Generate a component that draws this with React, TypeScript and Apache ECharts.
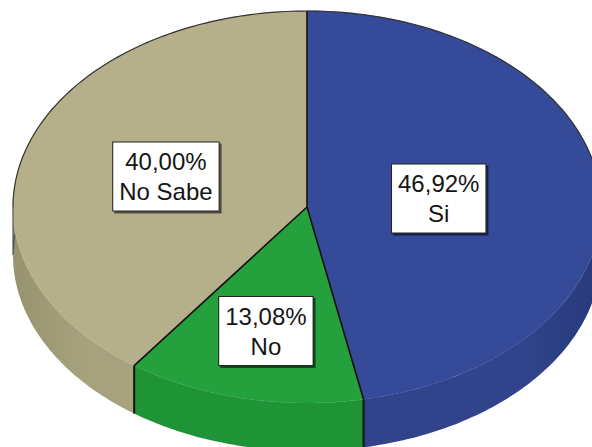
import React, { useEffect, useRef } from "react";
import * as echarts from "echarts";

const categories = ["Si", "No", "No Sabe"];
const values = [46.92, 13.08, 40.0];
const percentLabels = ["46,92%", "13,08%", "40,00%"];
const topColors = ["#354a98", "#24a03c", "#b5b08a"];
const sideColors = ["#30438b", "#1f9436", "#a6a27d"];
const sideDark = ["#283a7a", "#1a8230", "#97936f"];

export default function App() {
  const ref = useRef<HTMLDivElement>(null);
  useEffect(() => {
    const chart = echarts.init(ref.current!, null, { renderer: "svg" });
    const total = values.reduce((a, b) => a + b, 0);
    const starts: number[] = [];
    let acc = 0;
    values.forEach((v) => {
      starts.push((acc / total) * 360);
      acc += v;
    });
    const cx = 307, cy = 207, rx = 294, ry = 196, depth = 48;
    const pt = (deg: number, dy = 0) => {
      const r = (deg * Math.PI) / 180;
      return [cx + rx * Math.sin(r), cy - ry * Math.cos(r) + dy];
    };
    const arc = (a0: number, a1: number, dy = 0) => {
      const n = Math.max(2, Math.ceil(Math.abs(a1 - a0)));
      const pts: number[][] = [];
      for (let i = 0; i <= n; i++) pts.push(pt(a0 + ((a1 - a0) * i) / n, dy));
      return pts;
    };

    const renderItem = (params: any) => {
      const i = params.dataIndex;
      const a0 = starts[i];
      const a1 = a0 + (values[i] / total) * 360;
      const children: any[] = [];
      // side face
      const s = Math.max(a0, 90), e = Math.min(a1, 270);
      if (s < e) {
        children.push({
          type: "polygon",
          z2: 1,
          shape: { points: arc(s, e, 0).concat(arc(e, s, depth)) },
          style: {
            fill: {
              type: "linear", x: cx - rx, y: 0, x2: cx + rx, y2: 0, global: true,
              colorStops: [
                { offset: 0, color: sideDark[i] },
                { offset: 0.12, color: sideColors[i] },
                { offset: 0.88, color: sideColors[i] },
                { offset: 1, color: sideDark[i] },
              ],
            },
            stroke: null,
          },
        });
      }
      if (a0 > 90 && a0 < 270) {
        const p = pt(a0), q = pt(a0, depth);
        children.push({
          type: "line", z2: 12,
          shape: { x1: p[0], y1: p[1], x2: q[0], y2: q[1] },
          style: { stroke: "#111", lineWidth: 2 },
        });
      }
      // top face
      children.push({
        type: "polygon",
        z2: 5,
        shape: { points: [[cx, cy]].concat(arc(a0, a1)) },
        style: { fill: topColors[i], stroke: topColors[i], lineWidth: 0.5 },
      });
      // radial boundary
      const rp = pt(a0);
      children.push({
        type: "line", z2: 12,
        shape: { x1: cx, y1: cy, x2: rp[0], y2: rp[1] },
        style: { stroke: "#111", lineWidth: 1.6 },
      });
      // back outline
      const o0 = Math.max(a0, 0), o1 = Math.min(a1, 90);
      if (o0 < o1) {
        children.push({ type: "polyline", z2: 11, shape: { points: arc(o0, o1) }, style: { stroke: "#333", lineWidth: 1.2, fill: null } });
      }
      const b0 = Math.max(a0, 270), b1 = Math.min(a1, 360);
      if (b0 < b1) {
        children.push({ type: "polyline", z2: 11, shape: { points: arc(b0, b1) }, style: { stroke: "#333", lineWidth: 1.2, fill: null } });
      }
      [90, 270].forEach((ang) => {
        if (a0 < ang && a1 > ang) {
          const pts = ang === 90 ? [pt(84, depth), pt(90, depth), pt(90)] : [pt(276, depth), pt(270, depth), pt(270)];
          children.push({ type: "polyline", z2: 11, shape: { points: pts }, style: { stroke: "#555", lineWidth: 1.2, fill: null } });
        }
      });
      // label at centroid
      const half = ((a1 - a0) / 2) * (Math.PI / 180);
      const f = ((2 / 3) * Math.sin(half)) / half;
      const mid = ((a0 + a1) / 2) * (Math.PI / 180);
      children.push({
        type: "text",
        z2: 20,
        x: cx + f * rx * Math.sin(mid),
        y: cy - f * ry * Math.cos(mid),
        style: {
          text: percentLabels[i] + "\n" + categories[i],
          align: "center",
          verticalAlign: "middle",
          fontSize: 24,
          lineHeight: 30,
          fontFamily: "Liberation Sans, Arial, sans-serif",
          fill: "#151515",
          backgroundColor: "#ffffff",
          borderColor: "#222",
          borderWidth: 1,
          padding: [4, 6, 4, 6],
          shadowColor: "rgba(0,0,0,0.55)",
          shadowOffsetX: 2,
          shadowOffsetY: 2,
          shadowBlur: 0,
        },
      });
      return { type: "group", children };
    };

    chart.setOption({
      animation: false,
      backgroundColor: "#ffffff",
      series: [
        {
          type: "custom",
          coordinateSystem: "none",
          renderItem,
          data: values.map((v, i) => ({ value: v, name: categories[i] })),
        },
      ],
    });
    return () => chart.dispose();
  }, []);
  return <div ref={ref} style={{ position: "absolute", left: 0, top: 0, width: 592, height: 447 }} />;
}
